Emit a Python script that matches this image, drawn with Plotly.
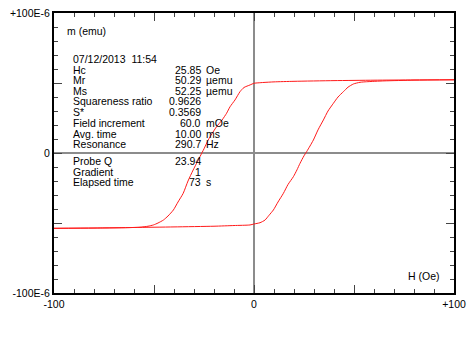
import plotly.graph_objects as go

# Descending branch (H from +100 to -100 Oe), moment in µemu
H_down = [100, 80, 60, 40, 20, 10, 5, 2, 0, -2, -5, -7, -9.5, -12, -13.7, -16, -18.7, -21, -22.9,
          -25, -27, -30.4, -33, -35.4, -38, -40.3, -43, -45.3, -48, -50.3, -53, -57, -65, -80, -100]
M_down = [52.3, 52.2, 52.0, 51.7, 51.2, 50.8, 50.4, 50.1, 49.8, 48.6, 46.8, 43.8, 37.9, 33.0, 28.4, 23.5, 18.8, 13.8, 9.3,
          3.0, -2.6, -12.1, -20.0, -28.8, -35.0, -40.7, -45.0, -47.9, -50.0, -51.4, -52.3, -53.0, -53.4, -53.6, -53.8]

# Ascending branch (H from -100 to +100 Oe)
H_up = [-100, -80, -60, -40, -20, -10, -2, 0, 3, 5.5, 7.5, 9.7, 12, 14.7, 17, 19.7, 21.5, 23, 25, 26.3,
        28, 29.7, 32, 34.7, 37, 39.7, 42, 44.7, 47, 49.7, 53, 56.3, 65, 80, 100]
M_up = [-53.8, -53.6, -53.2, -52.8, -52.3, -51.8, -51.4, -50.7, -49.8, -47.9, -44.5, -40.7, -35.0, -28.8, -22.5, -16.9,
        -12.0, -7.4, -2.0, 0.9, 5.0, 9.3, 16.5, 23.6, 30.0, 35.5, 40.0, 43.8, 47.0, 49.3, 50.5, 50.9, 51.5, 52.0, 52.3]

x_tickvals = [-100, -50, 0, 50, 100]
x_ticktext = ["-100", "", "0", "", "+100"]
y_tickvals = [-100e-6, -50e-6, 0, 50e-6, 100e-6]
y_ticktext = ["-100E-6", "", "0", "", "+100E-6"]

info_labels = ["Hc", "Mr", "Ms", "Squareness ratio", "S*", "Field increment", "Avg. time", "Resonance",
               "Probe Q", "Gradient", "Elapsed time"]
info_values = ["25.85", "50.29", "52.25", "0.9626", "0.3569", "60.0", "10.00", "290.7", "23.94", "1", "73"]
info_units = ["Oe", "µemu", "µemu", "", "", "mOe", "ms", "Hz", "", "", "s"]
timestamp = "07/12/2013\u00a0\u00a011:54"

RED = "#ff1a1a"
fig = go.Figure()
fig.add_trace(go.Scatter(x=H_down, y=[m * 1e-6 for m in M_down], mode="lines",
                         line=dict(color=RED, width=1, shape="spline", smoothing=0.6), showlegend=False))
fig.add_trace(go.Scatter(x=H_up, y=[m * 1e-6 for m in M_up], mode="lines",
                         line=dict(color=RED, width=1, shape="spline", smoothing=0.6), showlegend=False))

FONT = dict(family="Arial, Liberation Sans, sans-serif", size=10.5, color="black")

# plot area in page pixels: x 54..454, y 13..293
def px(xpix):
    return (xpix - 54) / 400.0

def py(ypix):
    return (293 - ypix) / 280.0

ann = []
ann.append(dict(x=px(65.5), y=py(31), text="m (emu)", showarrow=False, xanchor="left", yanchor="middle"))
ann.append(dict(x=px(72.3), y=py(59), text=timestamp, showarrow=False, xanchor="left", yanchor="middle"))
rows_y = [69.7, 80.3, 91, 101.3, 112, 122.7, 133.7, 144, 161, 171.7, 182.3]
for lab, val, unit, yy in zip(info_labels, info_values, info_units, rows_y):
    ann.append(dict(x=px(72.3), y=py(yy), text=lab, showarrow=False, xanchor="left", yanchor="middle"))
    ann.append(dict(x=px(201.5), y=py(yy), text=val, showarrow=False, xanchor="right", yanchor="middle"))
    if unit:
        ann.append(dict(x=px(204.5), y=py(yy), text=unit, showarrow=False, xanchor="left", yanchor="middle"))
ann.append(dict(x=px(441), y=py(276), text="H (Oe)", showarrow=False, xanchor="right", yanchor="middle"))
for a in ann:
    a["xref"] = "paper"
    a["yref"] = "paper"
    a["font"] = FONT
    a["borderpad"] = 0

fig.update_layout(
    width=470, height=360,
    margin=dict(l=54, r=16, t=13, b=67, autoexpand=False),
    paper_bgcolor="white", plot_bgcolor="white",
    font=FONT,
    annotations=ann,
    xaxis=dict(range=[-100, 100], tickvals=x_tickvals, ticktext=x_ticktext, automargin=False,
               ticklabeloverflow="allow",
               ticks="inside", ticklen=8, tickcolor="#444", tickwidth=1,
               minor=dict(dtick=10, ticks="inside", ticklen=4, tickcolor="#444", tickwidth=1, showgrid=False),
               showgrid=False, zeroline=True, zerolinecolor="#8c8c8c", zerolinewidth=1.5,
               showline=True, linecolor="black", linewidth=2, mirror="ticks",
               tickfont=FONT, fixedrange=True),
    yaxis=dict(range=[-100e-6, 100e-6], tickvals=y_tickvals, ticktext=y_ticktext, automargin=False,
               ticklabeloverflow="allow",
               ticks="inside", ticklen=8, tickcolor="#444", tickwidth=1,
               minor=dict(dtick=10e-6, ticks="inside", ticklen=4, tickcolor="#444", tickwidth=1, showgrid=False),
               showgrid=False, zeroline=True, zerolinecolor="#8c8c8c", zerolinewidth=1.5,
               showline=True, linecolor="black", linewidth=2, mirror="ticks",
               tickfont=FONT, fixedrange=True),
)

# remove the browser's default 8px body margin so the figure sits at the page origin
fig.write_html("out.html", config={"displayModeBar": False},
               post_script="document.body.style.margin='0px';document.body.style.overflow='hidden';")
